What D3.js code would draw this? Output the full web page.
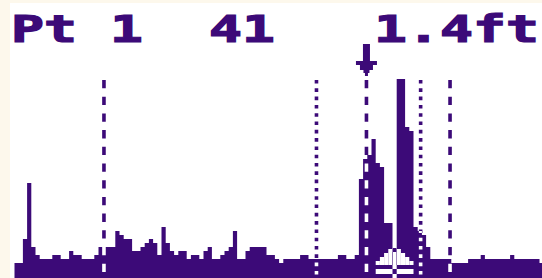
<!DOCTYPE html>
<html>
<head>
<meta charset="utf-8">
<script src="https://cdn.jsdelivr.net/npm/d3@7"></script>
<style>
  html, body { margin: 0; padding: 0; background: #fdf8ec; }
  svg { display: block; }
</style>
</head>
<body>
<svg id="chart" width="542" height="278"></svg>
<script>
// sonar returns, one value per screen column (height in lcd pixels)
const echoes = [
  4, 4, 10, 24, 8, 6, 5, 5, 5, 6,
  6, 5, 5, 7, 6, 6, 5, 5, 5, 6,
  8, 8, 8, 8, 12, 11, 10, 10, 7, 7,
  8, 9, 10, 9, 6, 13, 9, 7, 6, 7,
  7, 5, 6, 6, 5, 7, 8, 5, 5, 6,
  7, 8, 12, 5, 5, 7, 8, 8, 8, 8,
  6, 6, 5, 4, 5, 5, 5, 5, 6, 6,
  5, 5, 5, 5, 5, 5, 5, 6, 6, 5,
  5, 6, 25, 30, 31, 35, 29, 28, 14, 14,
  0, 50, 50, 38, 37, 13, 12, 11, 8, 5,
  5, 5, 5, 5, 4, 4, 4, 4, 5, 5,
  5, 6, 5, 5, 5, 5, 5, 5, 6, 5,
  5, 5, 5, 5, 5, 4
];
const dashedMarks = [21.3, 83.8, 103.7];   // column positions
const dottedMarks = [71.9, 96.7];
const cursorCol = 83.8;
const header = 'Pt 1  41   1.4ft';

// fish / bottom symbol, cells as [column, from, to] in lcd rows
const fishCells = [
  [86, 3.5, 4.5], [87, 3.5, 5.5], [88, 3.5, 6.5], [89, 3.5, 7.5],
  [90, 6.75, 7.75],
  [91, 3.5, 7.5], [92, 3.5, 6.5], [93, 3.5, 5.5], [94, 3.5, 4.5]
];
const fishBase = [86, 95, 1.25, 2.5];

const ink = '#3c0a78';
const W = 542, H = 278;
const svg = d3.select('#chart');

svg.append('rect')
  .attr('x', 10).attr('y', 3)
  .attr('width', W - 10).attr('height', H - 3)
  .attr('fill', '#fff');

const x = d3.scaleLinear().domain([0, echoes.length]).range([14.5, 14.5 + 4.2 * echoes.length]);
const y = d3.scaleLinear().domain([0, 50]).range([279, 79]);

const defs = svg.append('defs');
defs.append('clipPath').attr('id', 'screen')
  .append('rect').attr('x', 10).attr('y', 3).attr('width', W - 10).attr('height', H - 3);

const pts = echoes.map((v, i) => [i, v]);
pts.push([echoes.length, echoes[echoes.length - 1]]);
const area = d3.area()
  .x(d => x(d[0]))
  .y0(y(0) + 2)
  .y1(d => y(d[1]))
  .curve(d3.curveStepAfter);

defs.append('clipPath').attr('id', 'bars')
  .append('path').attr('d', area(pts));

const plot = svg.append('g').attr('clip-path', 'url(#screen)');

// lines + fish are drawn xor style: ink on white, white on the bars
function overlay(g, color) {
  g.selectAll('line.dash')
    .data(dashedMarks)
    .join('line')
    .attr('class', 'dash')
    .attr('x1', d => x(d)).attr('x2', d => x(d))
    .attr('y1', y(50) + 1).attr('y2', H)
    .attr('stroke', color)
    .attr('stroke-width', 3.6)
    .attr('stroke-dasharray', '8.3,8.4');

  g.selectAll('line.dot')
    .data(dottedMarks)
    .join('line')
    .attr('class', 'dot')
    .attr('x1', d => x(d)).attr('x2', d => x(d))
    .attr('y1', y(50) + 1).attr('y2', H)
    .attr('stroke', color)
    .attr('stroke-width', 3.6)
    .attr('stroke-dasharray', '3.6,4.7');

  g.selectAll('rect.fish')
    .data(fishCells)
    .join('rect')
    .attr('class', 'fish')
    .attr('x', d => x(d[0]))
    .attr('width', x(1) - x(0))
    .attr('y', d => y(d[2]))
    .attr('height', d => y(d[1]) - y(d[2]))
    .attr('fill', color);

  g.append('rect')
    .attr('x', x(fishBase[0]))
    .attr('width', x(fishBase[1]) - x(fishBase[0]))
    .attr('y', y(fishBase[3]))
    .attr('height', y(fishBase[2]) - y(fishBase[3]))
    .attr('fill', color);
}

overlay(plot.append('g'), ink);

plot.append('path')
  .attr('d', area(pts))
  .attr('fill', ink);

overlay(plot.append('g').attr('clip-path', 'url(#bars)'), '#fff');

// cursor arrow
const cx = x(cursorCol);
const p = d3.path();
p.moveTo(cx - 3.5, 44);
[[cx + 3.5, 44], [cx + 3.5, 61], [cx + 10.5, 61], [cx + 10.5, 65], [cx + 6.5, 65],
 [cx + 6.5, 70], [cx + 3, 70], [cx + 3, 73], [cx + 1.5, 73], [cx + 1.5, 76],
 [cx - 1.5, 76], [cx - 1.5, 73], [cx - 3, 73], [cx - 3, 70], [cx - 6.5, 70],
 [cx - 6.5, 65], [cx - 10.5, 65], [cx - 10.5, 61], [cx - 3.5, 61]].forEach(q => p.lineTo(q[0], q[1]));
p.closePath();
plot.append('path').attr('d', p.toString()).attr('fill', ink);

// header
plot.append('text')
  .attr('x', 11).attr('y', 42)
  .attr('textLength', 528)
  .attr('lengthAdjust', 'spacingAndGlyphs')
  .style('white-space', 'pre')
  .style('font', 'bold 37px "DejaVu Sans Mono", monospace')
  .attr('fill', ink)
  .attr('stroke', ink)
  .attr('stroke-width', 1.2)
  .text(header);
</script>
</body>
</html>
